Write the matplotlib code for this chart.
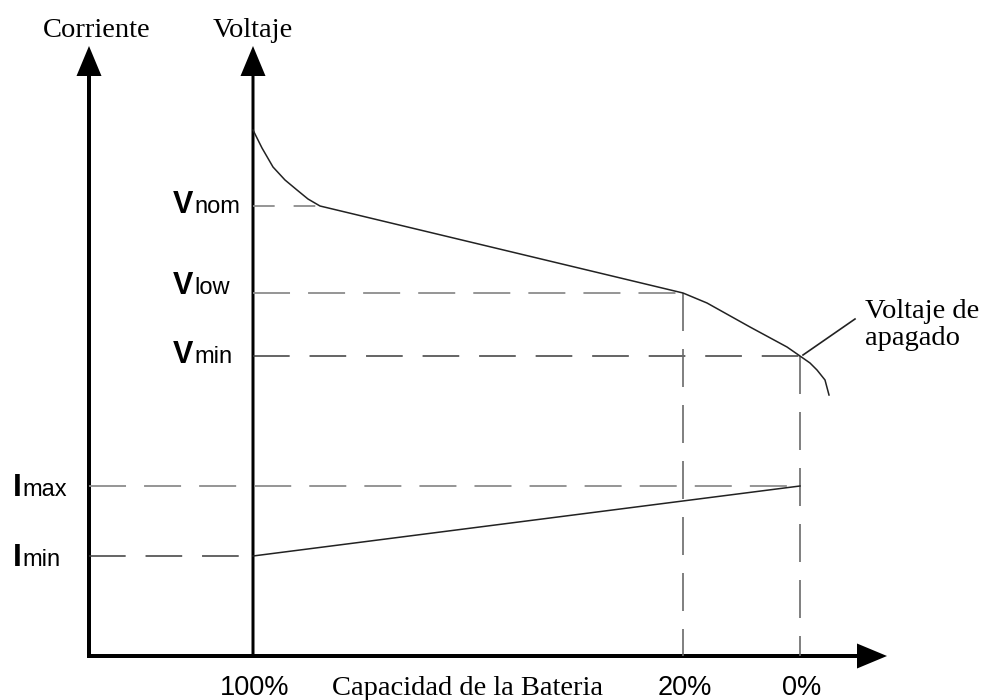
import numpy as np
import matplotlib.pyplot as plt

# schematic units: x grows to the right, y grows upward (one unit per pixel)
origin_x, origin_y = 89, 44          # corner of current axis and capacity axis
volt_axis_x = 253                    # voltage axis sits at 100 % capacity
axis_top = 652
capacity_end = 887

cap_labels = ["100%", "20%", "0%"]
cap_pos = [253, 683, 800]

# voltage levels and current levels
v_levels = {"nom": 494, "low": 407, "min": 344}
i_levels = {"max": 214, "min": 144}

# discharge voltage curve
volt_x = [253, 262, 273, 285, 297, 308, 320, 683, 707, 750, 787, 800, 810, 817, 825, 829]
volt_y = [570, 552, 533, 520, 510, 501, 494, 407, 397, 373, 353, 344, 337, 330, 320, 305]

# discharge current line (from 100 % to 0 %)
curr_x = [253, 800]
curr_y = [144, 214]

fig = plt.figure(figsize=(9.84, 7), dpi=100)
ax = fig.add_axes([0, 0, 1, 1])
ax.set_xlim(0, 984)
ax.set_ylim(0, 700)
ax.axis("off")

serif = "Liberation Serif"
sans = "Liberation Sans"

# axes drawn as arrows
arrow_kw = dict(head_width=25, head_length=30, length_includes_head=True,
                fc="black", ec="black", lw=0)
ax.arrow(origin_x, origin_y - 2, 0, axis_top - origin_y + 4, width=4, **arrow_kw)
ax.arrow(volt_axis_x, origin_y, 0, axis_top - origin_y + 2, width=3, **arrow_kw)
ax.arrow(origin_x - 2, origin_y, capacity_end - origin_x + 2, 0, width=4, **arrow_kw)

# dashed guides
light = dict(color="#8c8c8c", lw=1.3, dashes=(20.5, 10))
dark = dict(color="#3a3a3a", lw=1.1, dashes=(24, 13))
vert = dict(color="#6a6a6a", lw=1.2, dashes=(22.8, 10.8))
ax.plot([volt_axis_x, 320], [v_levels["nom"]] * 2, color="#8c8c8c", lw=1.3, dashes=(12, 10.5))
ax.plot([volt_axis_x, cap_pos[1]], [v_levels["low"]] * 2, **light)
ax.plot([volt_axis_x, cap_pos[2]], [v_levels["min"]] * 2, **dark)
ax.plot([origin_x, cap_pos[2]], [i_levels["max"]] * 2, **light)
ax.plot([origin_x, volt_axis_x], [i_levels["min"]] * 2, **dark)
ax.plot([cap_pos[1]] * 2, [v_levels["low"], origin_y], **vert)
ax.plot([cap_pos[2]] * 2, [v_levels["min"], origin_y], **vert)

# curves
ax.plot(volt_x, volt_y, color="#222222", lw=1.1)
ax.plot(curr_x, curr_y, color="#222222", lw=1.1)

# annotation for cut-off voltage
ax.plot([803, 855], [345, 381], color="#222222", lw=1.2)
ax.text(865, 382, "Voltaje de", family=serif, fontsize=20.5, va="baseline")
ax.text(865, 355, "apagado", family=serif, fontsize=20.5, va="baseline")

# axis titles
ax.text(97, 663, "Corriente", family=serif, fontsize=20.5, ha="center", va="baseline")
ax.text(253, 663, "Voltaje", family=serif, fontsize=20.5, ha="center", va="baseline")
ax.text(467, 5, "Capacidad de la Bateria", family=serif, fontsize=20.5,
        ha="center", va="baseline")

# capacity labels
for lab, x in zip(cap_labels, cap_pos):
    ax.text(x + 2, 5, lab, family=sans, fontsize=19.5, ha="center", va="baseline")

# level labels: bold letter plus plain suffix on the same baseline
v_base = {"nom": 487, "low": 406, "min": 337}
for key, y in v_base.items():
    ax.text(173, y, "V", family=sans, fontweight="bold", fontsize=22, va="baseline")
    ax.text(194, y, key, family=sans, fontsize=17, va="baseline")
i_base = {"max": 204, "min": 134}
for key, y in i_base.items():
    ax.text(13, y, "I", family=sans, fontweight="bold", fontsize=23, va="baseline")
    ax.text(22, y, key, family=sans, fontsize=17, va="baseline")

fig.savefig("out.png", dpi=100)
